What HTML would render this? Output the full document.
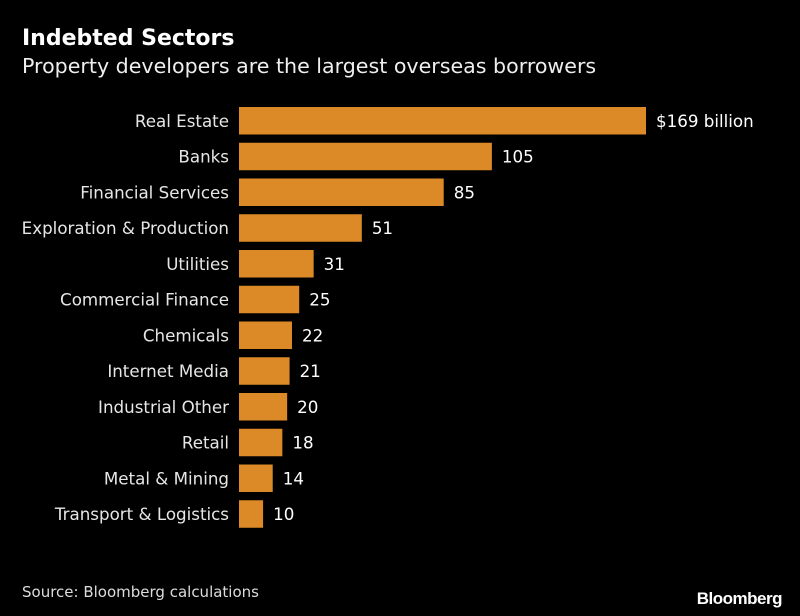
<!DOCTYPE html>
<html><head><meta charset="utf-8"><style>
body{margin:0;background:#000;}
#c{position:relative;width:800px;height:616px;background:#000;font-family:"DejaVu Sans","Liberation Sans",sans-serif;color:#fff;overflow:hidden}
.t{position:absolute;left:22px;top:26px;font-size:22px;font-weight:bold}
.s{position:absolute;left:22px;top:54px;font-size:20.6px;color:#eee}
.src{position:absolute;left:22px;top:583px;font-size:15px;color:#ddd}
.logo{position:absolute;right:18px;top:589px;font-size:17px;font-weight:bold;letter-spacing:-0.5px;font-family:"Liberation Sans",sans-serif}
</style></head><body>
<div id="c">
<div class="t">Indebted Sectors</div>
<div class="s">Property developers are the largest overseas borrowers</div>
<svg id="svg" width="800" height="616" style="position:absolute;left:0;top:0"></svg>
<div class="src">Source: Bloomberg calculations</div>
<div class="logo">Bloomberg</div>
</div>
<script>
const categories=["Real Estate","Banks","Financial Services","Exploration & Production","Utilities","Commercial Finance","Chemicals","Internet Media","Industrial Other","Retail","Metal & Mining","Transport & Logistics"];
const values=[169,105,85,51,31,25,22,21,20,18,14,10];
const valueLabels=["$169 billion","105","85","51","31","25","22","21","20","18","14","10"];
const NS="http://www.w3.org/2000/svg";
const svg=document.getElementById('svg');
const x0=239,pxPer=407/169;
const x=v=>x0+v*pxPer;
const y=i=>107+i*35.75;
const bh=27.5;
categories.forEach((c,i)=>{
 const r=document.createElementNS(NS,'rect');
 r.setAttribute('x',x0);r.setAttribute('y',y(i));
 r.setAttribute('width',x(values[i])-x0);r.setAttribute('height',bh);
 r.setAttribute('fill','#dc8a27');
 
 
 svg.appendChild(r);
 const l=document.createElementNS(NS,'text');
 l.setAttribute('x',229);l.setAttribute('y',y(i)+bh/2+6);
 l.setAttribute('text-anchor','end');l.setAttribute('fill','#e6e6e6');l.setAttribute('font-size','16.7');
 l.textContent=c;
 
 
 svg.appendChild(l);
 const v=document.createElementNS(NS,'text');
 v.setAttribute('x',x(values[i])+10);v.setAttribute('y',y(i)+bh/2+6);
 v.setAttribute('fill','#fff');v.setAttribute('font-size','16.7');
 v.textContent=valueLabels[i];
 
 
 svg.appendChild(v);
});
</script>
</body></html>
